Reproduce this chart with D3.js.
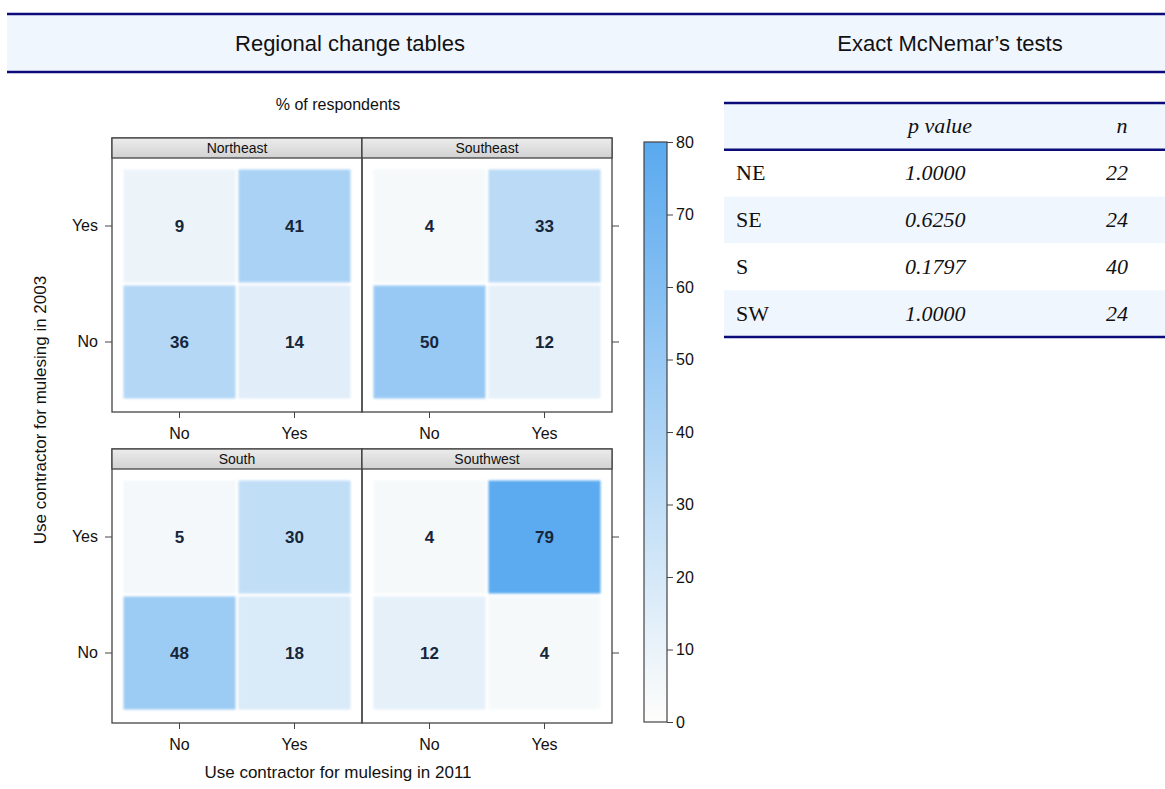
<!DOCTYPE html>
<html><head><meta charset="utf-8">
<script src="https://cdn.jsdelivr.net/npm/d3@7"></script>
<style>body{margin:0;background:#fff}svg{display:block}</style>
</head><body><svg id="c" width="1165" height="789"></svg>
<script>
const regions = ["Northeast","Southeast","South","Southwest"];
const levels2011 = ["No","Yes"];
const levels2003 = ["No","Yes"];
// values[region] = [[2003 No: 2011 No, 2011 Yes],[2003 Yes: 2011 No, 2011 Yes]]
const valNortheast = [[36,14],[9,41]];
const valSoutheast = [[50,12],[4,33]];
const valSouth     = [[48,18],[5,30]];
const valSouthwest = [[12,4],[4,79]];
const colorTicks = [0,10,20,30,40,50,60,70,80];
const tableRegions = ["NE","SE","S","SW"];
const tablePvalues = ["1.0000","0.6250","0.1797","1.0000"];
const tableN = ["22","24","40","24"];

const svg = d3.select("#c");
const navy = "#0b0b7a", bandBg = "#f0f6fe";
const sans = "Liberation Sans, Arial, sans-serif";
const serif = "Liberation Serif, Times New Roman, serif";

// header band
svg.append("rect").attr("x",7).attr("y",14).attr("width",1158).attr("height",58).attr("fill",bandBg);
[14,72].forEach(y=>svg.append("line").attr("x1",7).attr("x2",1165).attr("y1",y).attr("y2",y).attr("stroke",navy).attr("stroke-width",2.5));
svg.append("text").attr("x",350).attr("y",51).attr("text-anchor","middle").attr("font-family",sans).attr("font-size",22).attr("fill","#111").text("Regional change tables");
svg.append("text").attr("x",950).attr("y",51).attr("text-anchor","middle").attr("font-family",sans).attr("font-size",22).attr("fill","#111").text("Exact McNemar\u2019s  tests");

// colour scale
const color = d3.scaleLinear().domain([0,80]).range(["#fefdfb","#5aa9ef"]).interpolate(d3.interpolateRgb);

svg.append("text").attr("x",338).attr("y",110).attr("text-anchor","middle").attr("font-family",sans).attr("font-size",16).attr("fill","#111").text("% of respondents");

const vals = {Northeast:valNortheast,Southeast:valSoutheast,South:valSouth,Southwest:valSouthwest};
const panels = [
  {r:"Northeast",col:0,row:0},{r:"Southeast",col:1,row:0},
  {r:"South",col:0,row:1},{r:"Southwest",col:1,row:1}];
const colX = [112,362], panelW = 250;
const rowY = [138,449], stripH = 20, plotH = 254;
const pad = 10;

const defs = svg.append("defs");
const sg = defs.append("linearGradient").attr("id","strip").attr("x1",0).attr("x2",0).attr("y1",0).attr("y2",1);
sg.append("stop").attr("offset","0").attr("stop-color","#ececec");
sg.append("stop").attr("offset","1").attr("stop-color","#d2d2d2");
const bl = defs.append("filter").attr("id","blur").attr("x","-5%").attr("y","-5%").attr("width","110%").attr("height","110%");
bl.append("feGaussianBlur").attr("stdDeviation",1.2);

panels.forEach(p=>{
  const x0 = colX[p.col], y0 = rowY[p.row], py = y0+stripH;
  const x = d3.scaleBand().domain(levels2011).range([x0+pad, x0+panelW-pad]);
  const y = d3.scaleBand().domain(levels2003).range([py+plotH-pad-2, py+pad]);
  const g = svg.append("g");
  const data = [];
  levels2003.forEach((a,i)=>levels2011.forEach((b,j)=>data.push({a,b,v:vals[p.r][i][j]})));
  g.selectAll("rect.cell").data(data).join("rect").attr("class","cell")
    .attr("x",d=>x(d.b)+1.5).attr("y",d=>y(d.a)+1.5)
    .attr("width",x.bandwidth()-3).attr("height",y.bandwidth()-3)
    .attr("fill",d=>color(d.v)).attr("filter","url(#blur)");
  g.selectAll("text.lab").data(data).join("text").attr("class","lab")
    .attr("x",d=>x(d.b)+x.bandwidth()/2).attr("y",d=>y(d.a)+y.bandwidth()/2+6)
    .attr("text-anchor","middle").attr("font-family",sans).attr("font-size",17).attr("font-weight","bold")
    .attr("fill","#16263a").text(d=>d.v);
  // border
  g.append("rect").attr("x",x0).attr("y",y0).attr("width",panelW).attr("height",stripH+plotH)
    .attr("fill","none").attr("stroke","#444").attr("stroke-width",1.3);
  g.append("rect").attr("x",x0).attr("y",y0).attr("width",panelW).attr("height",stripH)
    .attr("fill","url(#strip)").attr("stroke","#444").attr("stroke-width",1.3);
  g.append("text").attr("x",x0+panelW/2).attr("y",y0+15).attr("text-anchor","middle")
    .attr("font-family",sans).attr("font-size",14).attr("fill","#111").text(p.r);
  // x axis below each panel
  const xa = svg.append("g").attr("transform",`translate(0,${py+plotH})`)
    .call(d3.axisBottom(x).tickSize(6).tickPadding(10));
  xa.select(".domain").remove();
  xa.selectAll("line").attr("stroke","#444");
  xa.selectAll("text").attr("font-family",sans).attr("font-size",16).attr("fill","#111");
  // y axis
  if(p.col===0){
    const ya = svg.append("g").attr("transform",`translate(${x0},0)`)
      .call(d3.axisLeft(y).tickSize(7).tickPadding(7));
    ya.select(".domain").remove();
    ya.selectAll("line").attr("stroke","#444");
    ya.selectAll("text").attr("font-family",sans).attr("font-size",16).attr("fill","#111");
  } else {
    const ya = svg.append("g").attr("transform",`translate(${x0+panelW},0)`)
      .call(d3.axisRight(y).tickSize(7).tickFormat(""));
    ya.select(".domain").remove();
    ya.selectAll("line").attr("stroke","#444");
  }
});

// axis titles
svg.append("text").attr("x",338).attr("y",778).attr("text-anchor","middle").attr("font-family",sans).attr("font-size",17).attr("fill","#111").text("Use contractor for mulesing in 2011");
svg.append("text").attr("transform","translate(46,410) rotate(-90)").attr("text-anchor","middle").attr("font-family",sans).attr("font-size",17).attr("fill","#111").text("Use contractor for mulesing in 2003");

// colour bar
const cy = d3.scaleLinear().domain([0,80]).range([722,142]);
const cg = defs.append("linearGradient").attr("id","cbar").attr("x1",0).attr("x2",0).attr("y1",1).attr("y2",0);
colorTicks.forEach(t=>cg.append("stop").attr("offset",t/80).attr("stop-color",color(t)));
svg.append("rect").attr("x",644).attr("y",cy(80)).attr("width",23).attr("height",cy(0)-cy(80))
  .attr("fill","url(#cbar)").attr("stroke","#444").attr("stroke-width",1.2);
const ca = svg.append("g").attr("transform","translate(667,0)").call(d3.axisRight(cy).tickValues(colorTicks).tickSize(6).tickPadding(3));
ca.select(".domain").remove();
ca.selectAll("line").attr("stroke","#444");
ca.selectAll("text").attr("font-family",sans).attr("font-size",16).attr("fill","#111");

// table
const tx0 = 724, tx1 = 1165;
const ty = d3.scaleBand().domain(["head"].concat(tableRegions)).range([103,337]);
const rows = ["head"].concat(tableRegions);
svg.selectAll("rect.trow").data(rows).join("rect").attr("class","trow")
  .attr("x",tx0).attr("width",tx1-tx0).attr("y",d=>ty(d)).attr("height",ty.bandwidth())
  .attr("fill",(d,i)=>i%2===0?bandBg:"#ffffff");
[103, ty("NE"), 337].forEach(y=>svg.append("line").attr("x1",tx0).attr("x2",tx1).attr("y1",y).attr("y2",y).attr("stroke",navy).attr("stroke-width",2.5));
const tc = ty.bandwidth()/2+7;
const fs = 22;
svg.append("text").attr("x",940).attr("y",ty("head")+tc).attr("text-anchor","middle").attr("font-family",serif).attr("font-style","italic").attr("font-size",fs).attr("fill","#111").text("p value");
svg.append("text").attr("x",1122).attr("y",ty("head")+tc).attr("text-anchor","middle").attr("font-family",serif).attr("font-style","italic").attr("font-size",fs).attr("fill","#111").text("n");
tableRegions.forEach((r,i)=>{
  svg.append("text").attr("x",736).attr("y",ty(r)+tc).attr("font-family",serif).attr("font-size",fs).attr("fill","#111").text(r);
  svg.append("text").attr("x",905).attr("y",ty(r)+tc).attr("font-family",serif).attr("font-style","italic").attr("font-size",fs).attr("fill","#111").text(tablePvalues[i]);
  svg.append("text").attr("x",1128).attr("y",ty(r)+tc).attr("text-anchor","end").attr("font-family",serif).attr("font-style","italic").attr("font-size",fs).attr("fill","#111").text(tableN[i]);
});
</script></body></html>
